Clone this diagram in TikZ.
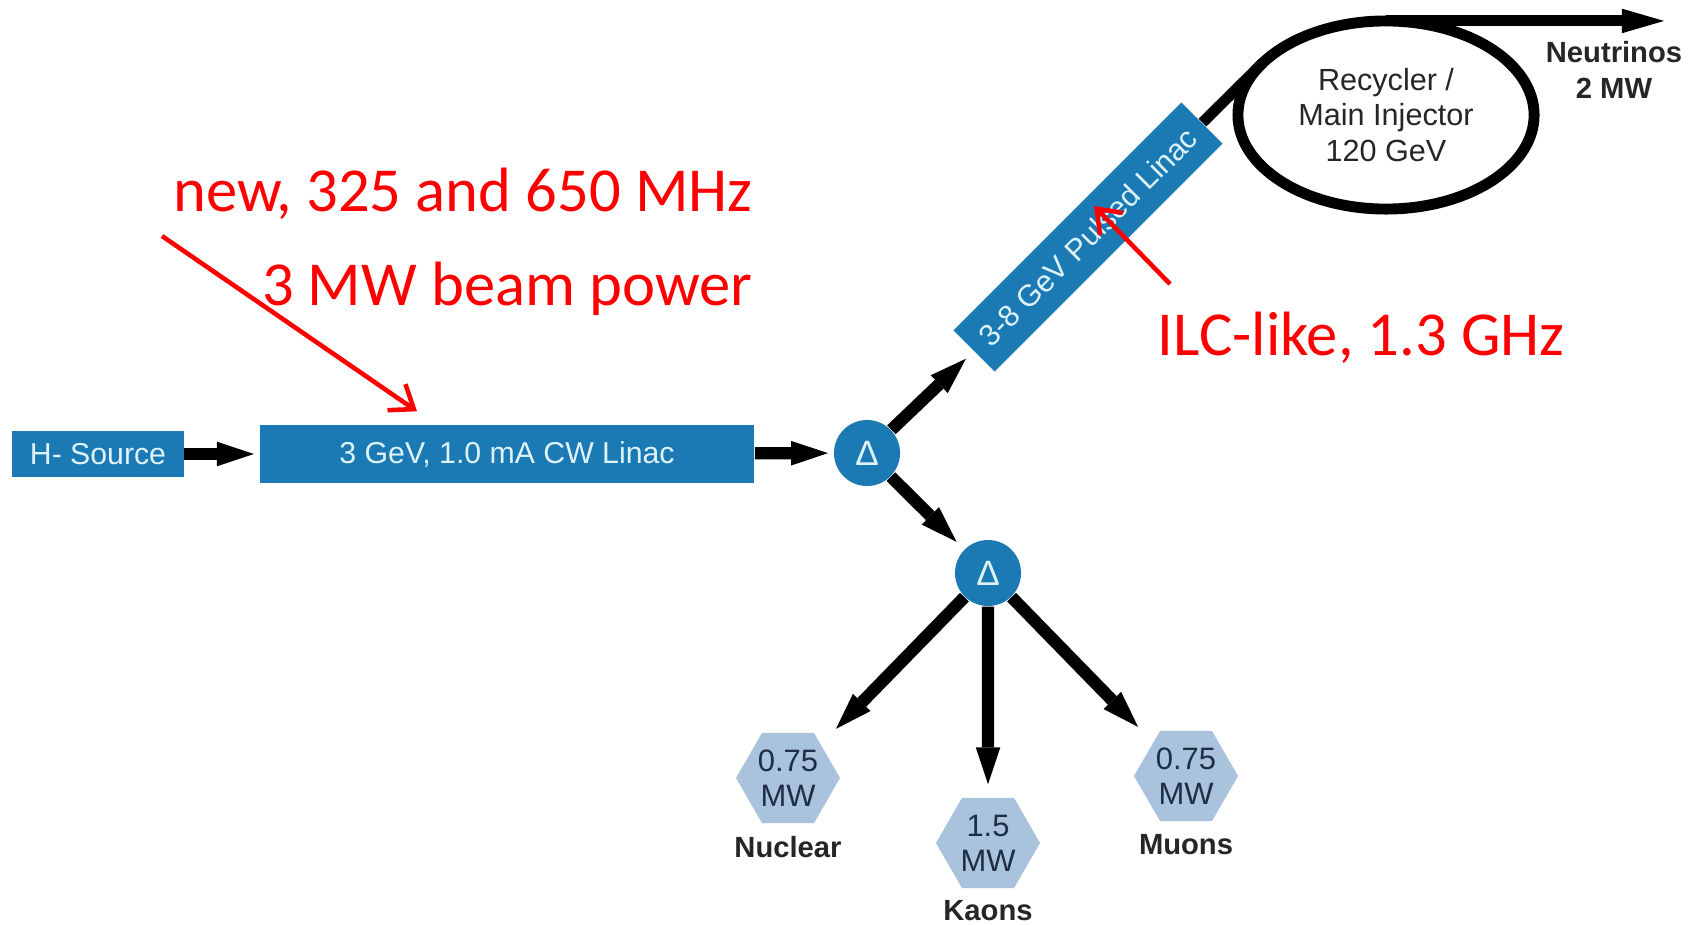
\documentclass[tikz,border=0pt]{standalone}
\usepackage{fontspec}
\setmainfont{Liberation Sans}
\newfontfamily\notefont{Carlito}
\usetikzlibrary{arrows.meta,positioning,shapes.geometric,calc}
\definecolor{pxBlue}{HTML}{1B79B4}
\definecolor{pxText}{HTML}{DDF3F9}
\definecolor{pxHex}{HTML}{A9C3DD}
\definecolor{pxNavy}{HTML}{1E2E44}
\definecolor{pxInk}{HTML}{262626}
\definecolor{pxRed}{HTML}{FF0000}
\tikzset{
  blk/.style={fill=pxBlue, text=pxText, inner sep=0pt,
              font=\fontsize{8.6}{10}\selectfont},
  split/.style={circle, fill=pxBlue, text=pxText, minimum size=0.66cm,
                inner sep=0pt, font=\fontsize{10}{12}\selectfont},
  hex/.style={regular polygon, regular polygon sides=6, fill=pxHex, text=pxNavy,
              minimum size=1.04cm, inner sep=0pt, align=center,
              font=\fontsize{8.8}{10}\selectfont},
  tag/.style={inner sep=0pt, text=pxInk, font=\bfseries\fontsize{8.3}{10}\selectfont},
  beam/.style={-{Triangle[length=10.5pt,width=7pt,line width=0pt]}, line width=3.5pt},
  note/.style={-{Straight Barb[length=6pt,width=9pt]}, pxRed, line width=1.3pt},
  notetext/.style={inner sep=0pt, text=pxRed,
                   font=\notefont\fontsize{17.8}{21}\selectfont},
}

\begin{document}
\begin{tikzpicture}[x=0.01cm, y=-0.01cm]
  \useasboundingbox[fill=white] (0,0) rectangle (1698,924);

  % front end
  \node[blk, minimum width=1.71cm, minimum height=0.46cm] (src) at (98,454) {H- Source};
  \node[blk, minimum width=4.94cm, minimum height=0.58cm] (lin) at (507,454)
    {3 GeV, 1.0 mA CW Linac};
  \node[split] (d1) at (867,453) {Δ};
  \node[split] (d2) at (988,573) {Δ};

  % pulsed linac and ring
  \node[blk, rotate=45, minimum width=3.22cm, minimum height=0.58cm] (pl) at (1088,237)
    {3-8 GeV Pulsed Linac};
  \node[ellipse, draw, line width=3.1pt, outer sep=0pt, minimum width=2.96cm,
    minimum height=1.88cm, inner sep=0pt, align=center, text=pxInk,
    font=\fontsize{8.7}{10.2}\selectfont] (mi) at (1386,115)
    {Recycler /\\Main Injector\\120 GeV};
  \coordinate (nu) at (1664,0);
  \node[tag, align=center] (nut) at (1614,70) {Neutrinos\\2 MW};

  % targets
  \node[hex] (nuc) at (788,778) {0.75\\MW};
  \node[hex] (kao) at (988,843) {1.5\\MW};
  \node[hex] (muo) at (1186,776) {0.75\\MW};
  \node[tag, below=0.12cm of nuc] (nucl) {Nuclear};
  \node[tag, below=0.11cm of kao] (kaol) {Kaons};
  \node[tag, below=0.12cm of muo] (muol) {Muons};

  % beam lines
  \draw[beam, shorten >=1.5pt] (src) -- (lin);
  \draw[beam, shorten >=1.5pt] (lin) -- (d1);
  \draw[beam, shorten >=3pt] (d1) -- (pl.west);
  \draw[beam, shorten >=3pt] (d1) -- (d2);
  \draw[beam, shorten >=6pt] (d2) -- (nuc);
  \draw[beam, shorten >=3.7pt] (d2) -- (kao);
  \draw[beam, shorten >=6pt] (d2) -- (muo);
  \draw[line width=3.1pt] (pl.east) -- (mi.157);
  \draw[beam, -{Triangle[length=12pt,width=7pt,line width=0pt]}, line width=3.1pt]
    (mi.north) -- (mi.north -| nu);

  % red notes
  \node[notetext, anchor=base east] (nt1) at (753,211) {new, 325 and 650 MHz};
  \node[notetext, anchor=base east] (nt2) at (753,305) {3 MW beam power};
  \node[notetext, anchor=base west] (nt3) at (1157,355) {ILC-like, 1.3 GHz};
  \coordinate (n1) at (162,236);
  \coordinate (n2) at (1170,284);
  \draw[note] (n1) -- ([shift={(-90,-13)}]lin.north);
  \draw[note] (n2) -- ([shift={(6,-31)}]pl.center);
\end{tikzpicture}
\end{document}
